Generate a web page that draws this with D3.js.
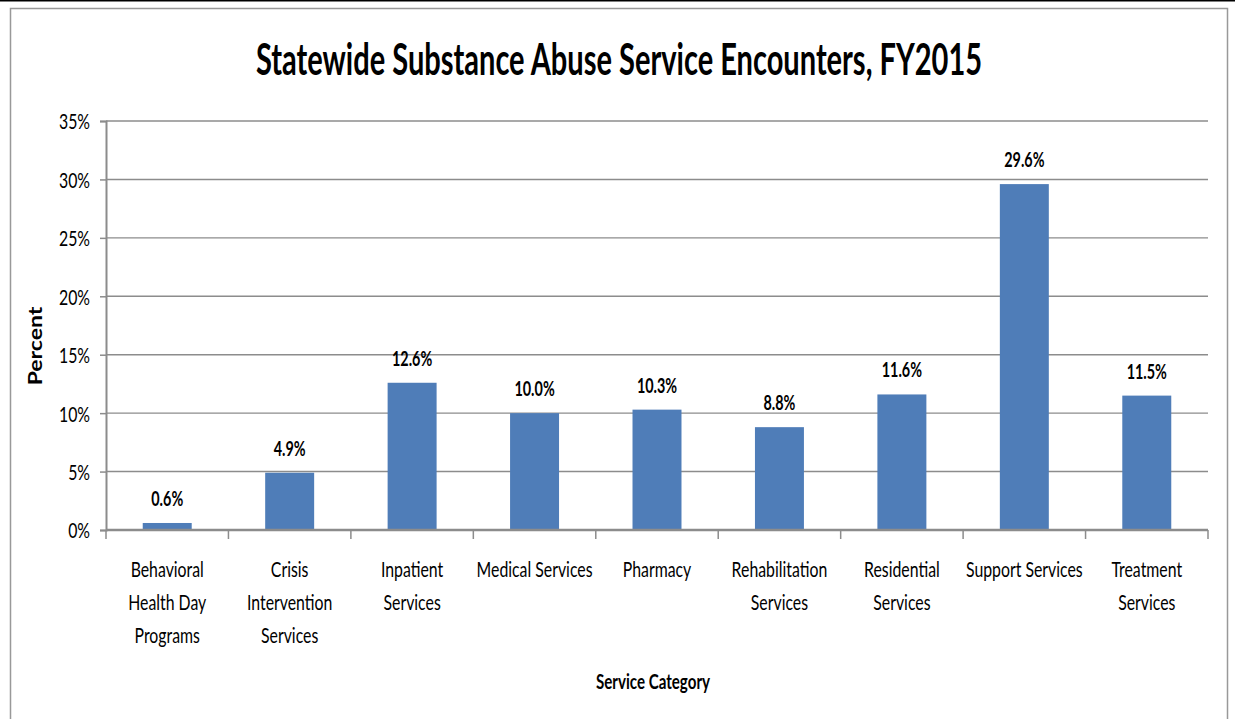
<!DOCTYPE html>
<html>
<head>
<meta charset="utf-8">
<script src="https://cdn.jsdelivr.net/npm/d3@7"></script>
<style>
  body { margin: 0; background: #fff; }
  text { font-family: Lato, "Open Sans", sans-serif; fill: #000; }
</style>
</head>
<body>
<div id="chart"></div>
<script>
// data
const categories = [
    ["Behavioral", "Health Day", "Programs"],
    ["Crisis", "Intervention", "Services"],
    ["Inpatient", "Services"],
    ["Medical Services"],
    ["Pharmacy"],
    ["Rehabilitation", "Services"],
    ["Residential", "Services"],
    ["Support Services"],
    ["Treatment", "Services"]
];
const percents = [0.6, 4.9, 12.6, 10.0, 10.3, 8.8, 11.6, 29.6, 11.5];
const yTicks = [0, 5, 10, 15, 20, 25, 30, 35];

const width = 1235, height = 719;
const margin = { top: 121, right: 27, bottom: 189, left: 106 };
const SX = 0.72; // horizontal squeeze to mimic narrow Calibri-like text

const svg = d3.select("#chart")
    .append("svg")
    .attr("width", width)
    .attr("height", height);

// frame
svg.append("rect")
    .attr("x", 0).attr("y", 0)
    .attr("width", width).attr("height", 1.5)
    .style("fill", "#000");
svg.append("rect")
    .attr("x", 10.5).attr("y", 8.5)
    .attr("width", 1217).attr("height", 720)
    .style("fill", "none")
    .style("stroke", "#999")
    .style("stroke-width", 1.5);

const keys = categories.map((c, i) => i);
const x = d3.scaleBand()
    .domain(keys)
    .range([margin.left, width - margin.right])
    .paddingInner(0.6)
    .paddingOuter(0.3);

const y = d3.scaleLinear()
    .domain([0, 35])
    .range([height - margin.bottom, margin.top]);

// gridlines
svg.append("g")
    .selectAll("line")
    .data(yTicks.filter(t => t > 0))
    .enter()
    .append("line")
    .attr("x1", margin.left)
    .attr("x2", width - margin.right)
    .attr("y1", d => y(d))
    .attr("y2", d => y(d))
    .style("stroke", "#8c8c8c")
    .style("stroke-width", 1.4);

// y axis
const yAxis = svg.append("g")
    .attr("transform", `translate(${margin.left},0)`)
    .call(d3.axisLeft(y).tickValues(yTicks).tickFormat(d => d + "%").tickSizeOuter(0).tickSize(6).tickPadding(10));
yAxis.select(".domain").style("stroke", "#8c8c8c").style("stroke-width", 2);
yAxis.selectAll(".tick line").style("stroke", "#8c8c8c").style("stroke-width", 1.5);
yAxis.selectAll(".tick text")
    .style("font-size", "22px")
    .attr("x", -16 / SX)
    .attr("dy", "0.36em")
    .attr("transform", `scale(${SX},1)`);

// bars
svg.selectAll(".bar")
    .data(percents)
    .enter()
    .append("rect")
    .attr("class", "bar")
    .attr("x", (d, i) => x(i))
    .attr("y", d => y(d))
    .attr("width", x.bandwidth())
    .attr("height", d => y(0) - y(d))
    .style("fill", "#4f7db8");

// x axis with ticks at category boundaries
const xAxisG = svg.append("g")
    .attr("transform", `translate(0,${y(0)})`);
const step = x.step();
const bounds = d3.range(categories.length + 1).map(i => margin.left + i * (width - margin.right - margin.left) / categories.length);
xAxisG.append("line")
    .attr("x1", margin.left).attr("x2", width - margin.right)
    .style("stroke", "#8c8c8c").style("stroke-width", 2.5);
xAxisG.selectAll(".btick")
    .data(bounds)
    .enter()
    .append("line")
    .attr("class", "btick")
    .attr("x1", d => d).attr("x2", d => d)
    .attr("y1", 0).attr("y2", 9)
    .style("stroke", "#8c8c8c").style("stroke-width", 1.5);

// category labels
const catLabels = xAxisG.selectAll(".cat")
    .data(categories)
    .enter()
    .append("g")
    .attr("class", "cat")
    .attr("transform", (d, i) => `translate(${x(i) + x.bandwidth() / 2},47)`)
    .append("text")
    .attr("transform", `scale(${SX},1)`)
    .style("text-anchor", "middle")
    .style("font-size", "22px");
catLabels.selectAll("tspan")
    .data(d => d)
    .enter()
    .append("tspan")
    .attr("x", 0)
    .attr("y", (d, i) => i * 33)
    .text(d => d);

// value labels
svg.selectAll(".val")
    .data(percents)
    .enter()
    .append("g")
    .attr("class", "val")
    .attr("transform", (d, i) => `translate(${x(i) + x.bandwidth() / 2},${y(d) - 17})`)
    .append("text")
    .attr("transform", `scale(${SX},1)`)
    .style("text-anchor", "middle")
    .style("font-size", "20px")
    .style("font-weight", "bold")
    .text(d => d.toFixed(1) + "%");

// title
svg.append("g")
    .attr("transform", "translate(619,75)")
    .append("text")
    .attr("transform", "scale(0.66,1)")
    .style("text-anchor", "middle")
    .style("font-size", "44px")
    .style("font-weight", "bold")
    .text("Statewide Substance Abuse Service Encounters, FY2015");

// axis titles
svg.append("g")
    .attr("transform", "translate(653,689)")
    .append("text")
    .attr("transform", `scale(${SX},1)`)
    .style("text-anchor", "middle")
    .style("font-size", "21px")
    .style("font-weight", "bold")
    .text("Service Category");

svg.append("g")
    .attr("transform", "translate(42,346)")
    .append("text")
    .attr("transform", "rotate(-90) scale(1,0.8)")
    .style("text-anchor", "middle")
    .style("font-size", "23px")
    .style("font-weight", "bold")
    .text("Percent");
</script>
</body>
</html>
